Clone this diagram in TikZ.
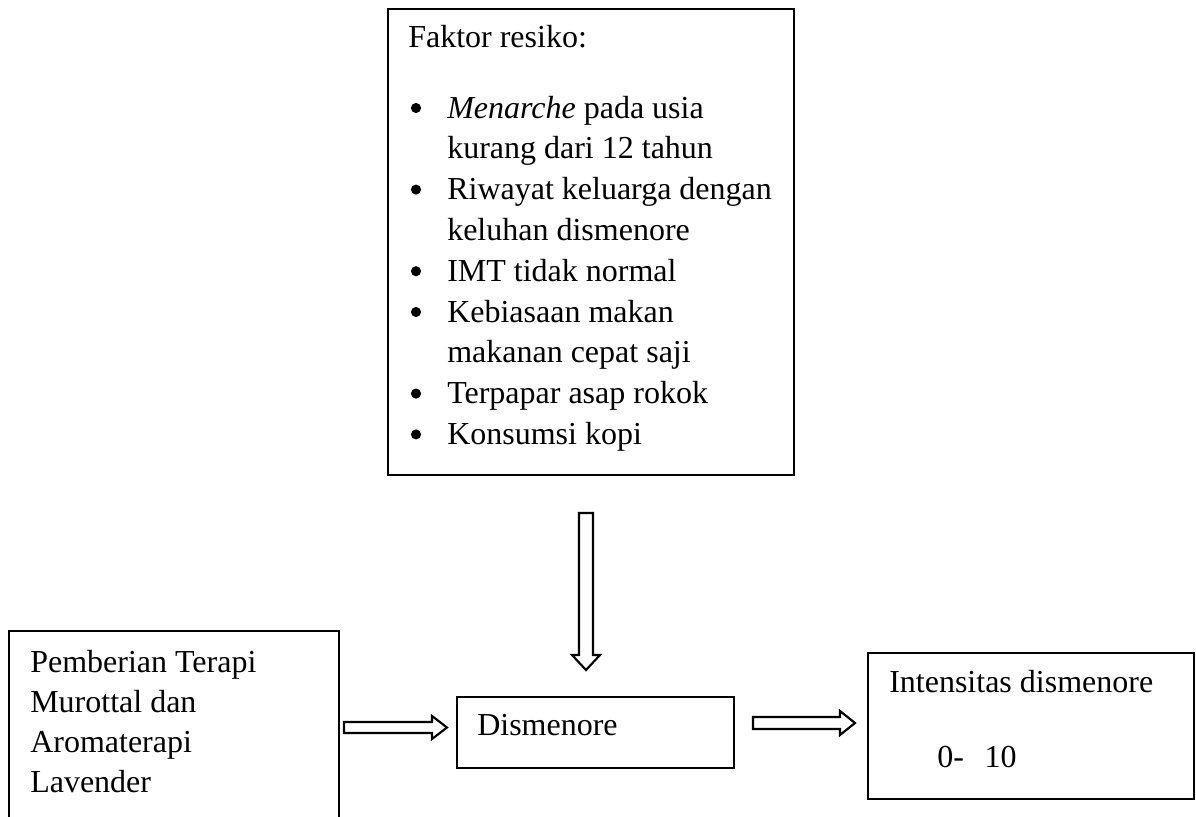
\documentclass[tikz,border=0pt]{standalone}
\usepackage{fontspec}
\setmainfont{Liberation Serif}
\usetikzlibrary{fit}

\tikzset{
  box/.style={draw=black, line width=0.9pt, inner sep=0pt},
  txt/.style={anchor=base west, inner sep=0pt, font=\fontsize{24}{29}\selectfont},
  dot/.style={circle, fill=black, inner sep=0pt, minimum size=7.6pt},
  blockarrow/.style={draw=black, line width=1.6pt, line join=miter, fill=white}
}

\begin{document}
\begin{tikzpicture}[x=0.75pt, y=-0.75pt]
  \useasboundingbox (0,0) rectangle (1196,817);
  \clip (0,0) rectangle (1196,817);

  % risk factor box
  \node[box, fit={(388,9) (794,475)}] (risk) {};
  \node[txt] (riskhead) at (408,48) {Faktor resiko:};
  \foreach \k/\y in {b1/118, b2/199.6, b3/281.2, b4/322, b5/403.6, b6/444.4}
    \node[dot] (\k) at (416,\y-10) {};
  \node[txt] (r1a) at (447,118)   {\textit{Menarche} pada usia};
  \node[txt] (r1b) at (447,158.8) {kurang dari 12 tahun};
  \node[txt] (r2a) at (447,199.6) {Riwayat keluarga dengan};
  \node[txt] (r2b) at (447,240.4) {keluhan dismenore};
  \node[txt] (r3)  at (447,281.2) {IMT tidak normal};
  \node[txt] (r4a) at (447,322)   {Kebiasaan makan};
  \node[txt] (r4b) at (447,362.8) {makanan cepat saji};
  \node[txt] (r5)  at (447,403.6) {Terpapar asap rokok};
  \node[txt] (r6)  at (447,444.4) {Konsumsi kopi};

  % therapy box (runs past the lower edge)
  \node[box, fit={(9,631) (339,840)}] (therapy) {};
  \node[txt] (t1) at (30,672) {Pemberian Terapi};
  \node[txt] (t2) at (30,712) {Murottal dan};
  \node[txt] (t3) at (30,752) {Aromaterapi};
  \node[txt] (t4) at (30,792) {Lavender};

  % dysmenorrhea box
  \node[box, fit={(457,697) (734,768)}] (dis) {};
  \node[txt] (distxt) at (477,735) {Dismenore};

  % intensity box
  \node[box, fit={(868,653) (1194,799)}] (intens) {};
  \node[txt] (int1) at (889,692) {Intensitas dismenore};
  \node[txt] (int2) at (937,767) {0-\hspace{15.5pt}10};

  % hollow block arrows between the boxes
  \draw[blockarrow] (579,513) -- (593,513) -- (593,655) -- (600,655)
    -- (586,670) -- (572,655) -- (579,655) -- cycle;
  \draw[blockarrow] (344,722) -- (432,722) -- (432,716) -- (447,727.5)
    -- (432,739) -- (432,733) -- (344,733) -- cycle;
  \draw[blockarrow] (753,717) -- (840,717) -- (840,711) -- (855,723)
    -- (840,735) -- (840,729) -- (753,729) -- cycle;
\end{tikzpicture}
\end{document}
